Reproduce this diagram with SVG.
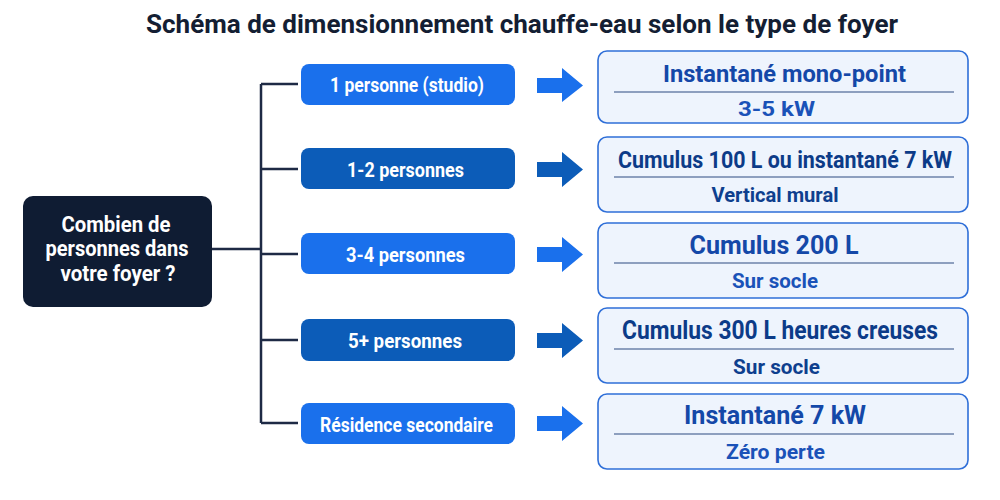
<svg xmlns="http://www.w3.org/2000/svg" width="1000" height="500" viewBox="0 0 1000 500">
<defs>
<style>
text{font-family:"Roboto","Liberation Sans",Arial,sans-serif;font-weight:700;text-anchor:middle}
.title{font-size:26px;fill:#141e33}
.q{font-size:22px;fill:#ffffff}
.btn{font-size:21px;fill:#ffffff}
.bright{fill:#1a70ec}
.dark{fill:#0c5cb8}
.box{fill:#eef4fd;stroke:#2f6fd8;stroke-width:1.6}
.div{stroke:#2c4a80;stroke-width:1}
.h{font-size:25px;fill:#1448a8}
.h2{font-size:25px;fill:#0c3b88}
.s{font-size:21px;fill:#1a52b8}
.s2{font-size:21px;fill:#0e3f8e}
.conn{fill:none;stroke:#1e2a45;stroke-width:2.5}
</style>
</defs>
<rect width="1000" height="500" fill="#ffffff"/>
<text class="title" x="522" y="33" textLength="752" lengthAdjust="spacingAndGlyphs">Schéma de dimensionnement chauffe-eau selon le type de foyer</text>

<g id="connectors">
<path class="conn" d="M212 249 H261 M261 84 V423 M261 84 H298 M261 169 H298 M261 254 H298 M261 340 H298 M261 423 H298"/>
<polygon class="bright" points="537,78 562,78 562,68 583,85.5 562,102 562,93 537,93"/>
<polygon class="dark" points="537,162 562,162 562,152 583,169.5 562,187 562,177 537,177"/>
<polygon class="bright" points="537,247 562,247 562,237 583,254.5 562,272 562,262 537,262"/>
<polygon class="dark" points="537,333 562,333 562,323 583,340.5 562,358 562,348 537,348"/>
<polygon class="bright" points="537,416 562,416 562,406 583,423.5 562,441 562,431 537,431"/>
</g>

<g id="question">
<rect x="23" y="196" width="189" height="111" rx="10" fill="#0f1c33"/>
<text class="q" x="116" y="232" textLength="109" lengthAdjust="spacingAndGlyphs">Combien de</text>
<text class="q" x="117" y="256" textLength="143" lengthAdjust="spacingAndGlyphs">personnes dans</text>
<text class="q" x="118" y="281" textLength="115" lengthAdjust="spacingAndGlyphs">votre foyer ?</text>
</g>

<g id="btn1"><rect class="bright" x="301" y="64" width="214" height="41" rx="8"/>
<text class="btn" x="407" y="92" textLength="154" lengthAdjust="spacingAndGlyphs">1 personne (studio)</text></g>
<g id="btn2"><rect class="dark" x="301" y="148" width="214" height="41" rx="8"/>
<text class="btn" x="405.5" y="177" textLength="117" lengthAdjust="spacingAndGlyphs">1-2 personnes</text></g>
<g id="btn3"><rect class="bright" x="301" y="233" width="214" height="41" rx="8"/>
<text class="btn" x="405.5" y="262" textLength="119" lengthAdjust="spacingAndGlyphs">3-4 personnes</text></g>
<g id="btn4"><rect class="dark" x="301" y="319" width="214" height="42" rx="8"/>
<text class="btn" x="405" y="348" textLength="114" lengthAdjust="spacingAndGlyphs">5+ personnes</text></g>
<g id="btn5"><rect class="bright" x="301" y="403" width="214" height="41" rx="8"/>
<text class="btn" x="406.5" y="432" textLength="173" lengthAdjust="spacingAndGlyphs">Résidence secondaire</text></g>

<g id="res1"><rect class="box" x="598" y="51" width="370" height="72" rx="9"/>
<line class="div" x1="614" y1="92" x2="954" y2="92"/>
<text class="h" x="784.5" y="82" textLength="243" lengthAdjust="spacingAndGlyphs" style="font-size:23px">Instantané mono-point</text>
<text class="s" x="776.5" y="116" textLength="77" lengthAdjust="spacingAndGlyphs">3-5 kW</text></g>
<g id="res2"><rect class="box" x="598" y="137" width="370" height="75" rx="9"/>
<line class="div" x1="614" y1="177" x2="954" y2="177"/>
<text class="h2" x="785" y="168" textLength="334" lengthAdjust="spacingAndGlyphs" style="font-size:24px">Cumulus 100 L ou instantané 7 kW</text>
<text class="s2" x="775" y="202" textLength="127" lengthAdjust="spacingAndGlyphs">Vertical mural</text></g>
<g id="res3"><rect class="box" x="598" y="223" width="370" height="75" rx="9"/>
<line class="div" x1="614" y1="263" x2="954" y2="263"/>
<text class="h" x="774" y="254" textLength="169" lengthAdjust="spacingAndGlyphs">Cumulus 200 L</text>
<text class="s" x="775" y="288" textLength="86" lengthAdjust="spacingAndGlyphs">Sur socle</text></g>
<g id="res4"><rect class="box" x="598" y="308" width="370" height="75" rx="9"/>
<line class="div" x1="614" y1="349" x2="954" y2="349"/>
<text class="h2" x="780" y="339" textLength="316" lengthAdjust="spacingAndGlyphs">Cumulus 300 L heures creuses</text>
<text class="s2" x="776.5" y="374" textLength="87" lengthAdjust="spacingAndGlyphs">Sur socle</text></g>
<g id="res5"><rect class="box" x="598" y="394" width="370" height="75" rx="9"/>
<line class="div" x1="614" y1="434" x2="954" y2="434"/>
<text class="h" x="775" y="424" textLength="182" lengthAdjust="spacingAndGlyphs">Instantané 7 kW</text>
<text class="s" x="775.5" y="459" textLength="99" lengthAdjust="spacingAndGlyphs">Zéro perte</text></g>
</svg>
